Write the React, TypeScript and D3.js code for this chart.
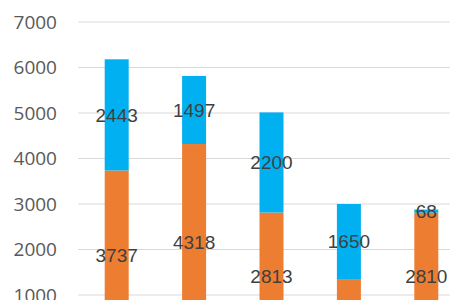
import React from "react";
import * as d3 from "d3";

const categories = ["A", "B", "C", "D", "E"];
const orangeValues = [3737, 4318, 2813, 1350, 2810];
const blueValues = [2443, 1497, 2200, 1650, 68];
const tickValues = [1000, 2000, 3000, 4000, 5000, 6000, 7000];

export default function App() {
  const W = 450, H = 300;
  const y = d3.scaleLinear().domain([0, 7000]).range([340.5, 22]);
  const x = d3.scaleBand().domain(categories).range([78, 465]).paddingInner(0.69).paddingOuter(0.345);
  const stacked = d3.stack<any>().keys(["o", "b"])(
    categories.map((c, i) => ({ c, o: orangeValues[i], b: blueValues[i] }))
  );
  const colors = ["#ED7D31", "#00B0F0"];
  const labels = [orangeValues, blueValues];
  return (
    <svg width={W} height={H} style={{ position: "absolute", left: 0, top: 0, background: "#fff" }}>
      {tickValues.map((t) => (
        <g key={t}>
          <line x1={78} x2={450} y1={y(t)} y2={y(t)} stroke="#d9d9d9" strokeWidth={1} />
          <text x={57} y={y(t)} dy="0.36em" textAnchor="end" fontFamily="Open Sans" fontSize={19} fill="#595959">
            {t}
          </text>
        </g>
      ))}
      {stacked.map((s, si) => (
        <g key={si}>
          {s.map((d, i) => (
            <rect key={i} x={x(categories[i])} width={x.bandwidth()} y={y(d[1])} height={y(d[0]) - y(d[1])} fill={colors[si]} />
          ))}
        </g>
      ))}
      {stacked.map((s, si) => (
        <g key={"l" + si}>
          {s.map((d, i) => (
            <text key={i} x={(x(categories[i]) as number) + x.bandwidth() / 2} y={y((d[0] + d[1]) / 2)} dy="0.36em"
              textAnchor="middle" fontFamily="Liberation Sans, Arial" fontSize={19} fill="#404040">
              {labels[si][i]}
            </text>
          ))}
        </g>
      ))}
    </svg>
  );
}
